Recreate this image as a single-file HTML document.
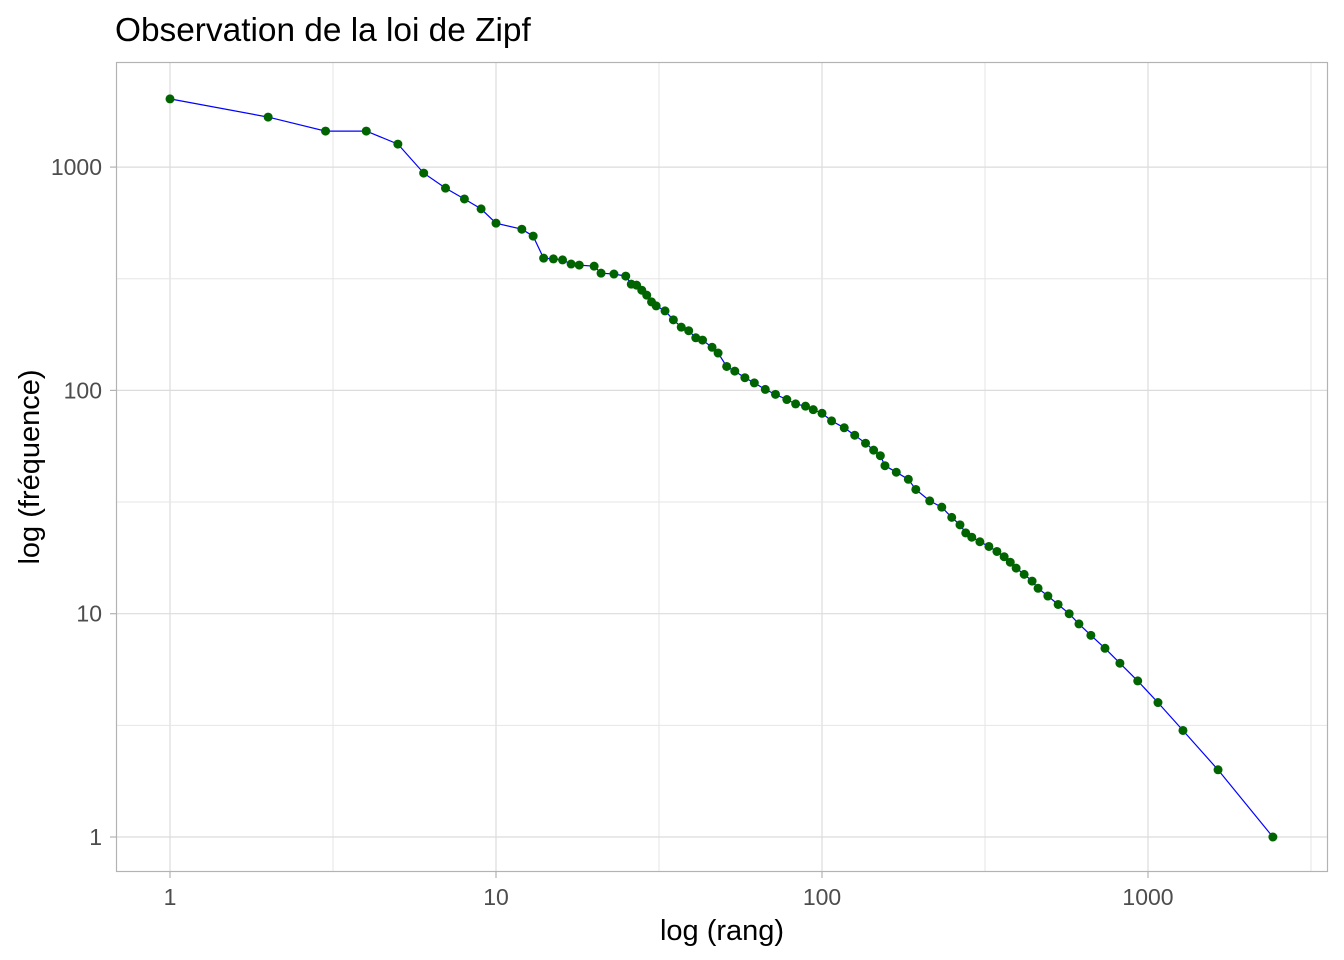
<!DOCTYPE html>
<html><head><meta charset="utf-8"><style>
html,body{margin:0;padding:0;background:#fff;}
svg{display:block;font-family:"Liberation Sans",Arial,sans-serif;}
</style></head><body>
<svg id="chart" width="1344" height="960" viewBox="0 0 1344 960">
<text x="115" y="41" font-size="33.4" fill="#000">Observation de la loi de Zipf</text>
<rect x="116" y="62" width="1212" height="810" fill="#fff"/>
<g id="grid"></g>
<rect x="116.5" y="62.5" width="1211" height="809" fill="none" stroke="#b3b3b3" stroke-width="1.2"/>
<g id="axes"></g>
<path id="line" fill="none" stroke="#0000ff" stroke-width="1.2"/>
<g id="pts"></g>
<text x="722" y="940" font-size="29" text-anchor="middle" fill="#000">log (rang)</text>
<text transform="translate(39,467) rotate(-90)" font-size="29" text-anchor="middle" fill="#000">log (fréquence)</text>
</svg>
<script>
const ranks = [1,2,3,4,5,6,7,8,9,10,12,13,14,15,16,17,18,20,21,23,25,26,27,28,29,30,31,33,35,37,39,41,43,46,48,51,54,58,62,67,72,78,83,89,94,100,107,117,126,136,144,151,156,169,184,194,214,233,250,265,276,288,305,325,344,362,378,394,417,441,460,493,530,573,614,668,738,820,930,1073,1280,1640,2416];
const freqs = [2020,1675,1450,1450,1268,940,805,720,650,561,527,491,391,388,384,368,364,360,335,332,325,299,296,281,267,249,239,227,207,192,185,172,168,156,147,128,122,114,108,101,96,91,87,85,82,79,73,68,63,58,54,51,46,43,40,36,32,30,27,25,23,22,21,20,19,18,17,16,15,14,13,12,11,10,9,8,7,6,5,4,3,2,1];
const xTicks = [1,10,100,1000];
const yTicks = [1,10,100,1000];
const xTickLabels = ["1","10","100","1000"];
const yTickLabels = ["1","10","100","1000"];
const NS="http://www.w3.org/2000/svg";
const xs = v => 170 + 326*Math.log10(v);
const ys = v => 837 - 223.3*Math.log10(v);
const grid=document.getElementById('grid'), axes=document.getElementById('axes');
function mk(tag,attrs,parent){const e=document.createElementNS(NS,tag);for(const k in attrs)e.setAttribute(k,attrs[k]);parent.appendChild(e);return e;}
xTicks.forEach((t,i)=>{
  const x=xs(t);
  const g=mk('line',{x1:x,x2:x,y1:62,y2:872,stroke:'#dcdcdc','stroke-width':1.2},grid);
  
  
  const m=mk('line',{x1:xs(t*Math.sqrt(10)),x2:xs(t*Math.sqrt(10)),y1:62,y2:872,stroke:'#e6e6e6','stroke-width':1},grid);
  
  
  const tk=mk('line',{x1:x,x2:x,y1:872,y2:878,stroke:'#b3b3b3','stroke-width':1.2},axes);
  
  
  const tx=mk('text',{x:x,y:905,'font-size':23,'text-anchor':'middle',fill:'#4d4d4d'},axes);
  tx.textContent=xTickLabels[i];
  
  
});
yTicks.forEach((t,i)=>{
  const y=ys(t);
  const g=mk('line',{x1:116,x2:1328,y1:y,y2:y,stroke:'#dcdcdc','stroke-width':1.2},grid);
  
  
  if(t<1000){
  const m=mk('line',{x1:116,x2:1328,y1:ys(t*Math.sqrt(10)),y2:ys(t*Math.sqrt(10)),stroke:'#e6e6e6','stroke-width':1},grid);
  
  }
  const tk=mk('line',{x1:110,x2:116,y1:y,y2:y,stroke:'#b3b3b3','stroke-width':1.2},axes);
  
  
  const tx=mk('text',{x:102,y:y+8,'font-size':23,'text-anchor':'end',fill:'#4d4d4d'},axes);
  tx.textContent=yTickLabels[i];
  
  
});
document.getElementById('line').setAttribute('d',ranks.map((r,i)=>(i?'L':'M')+xs(r).toFixed(1)+','+ys(freqs[i]).toFixed(1)).join(''));
const pts=document.getElementById('pts');
ranks.forEach((r,i)=>{
  const c=mk('circle',{cx:xs(r),cy:ys(freqs[i]),r:4.5,fill:'#006400'},pts);
  
  
});
</script>
</body></html>
